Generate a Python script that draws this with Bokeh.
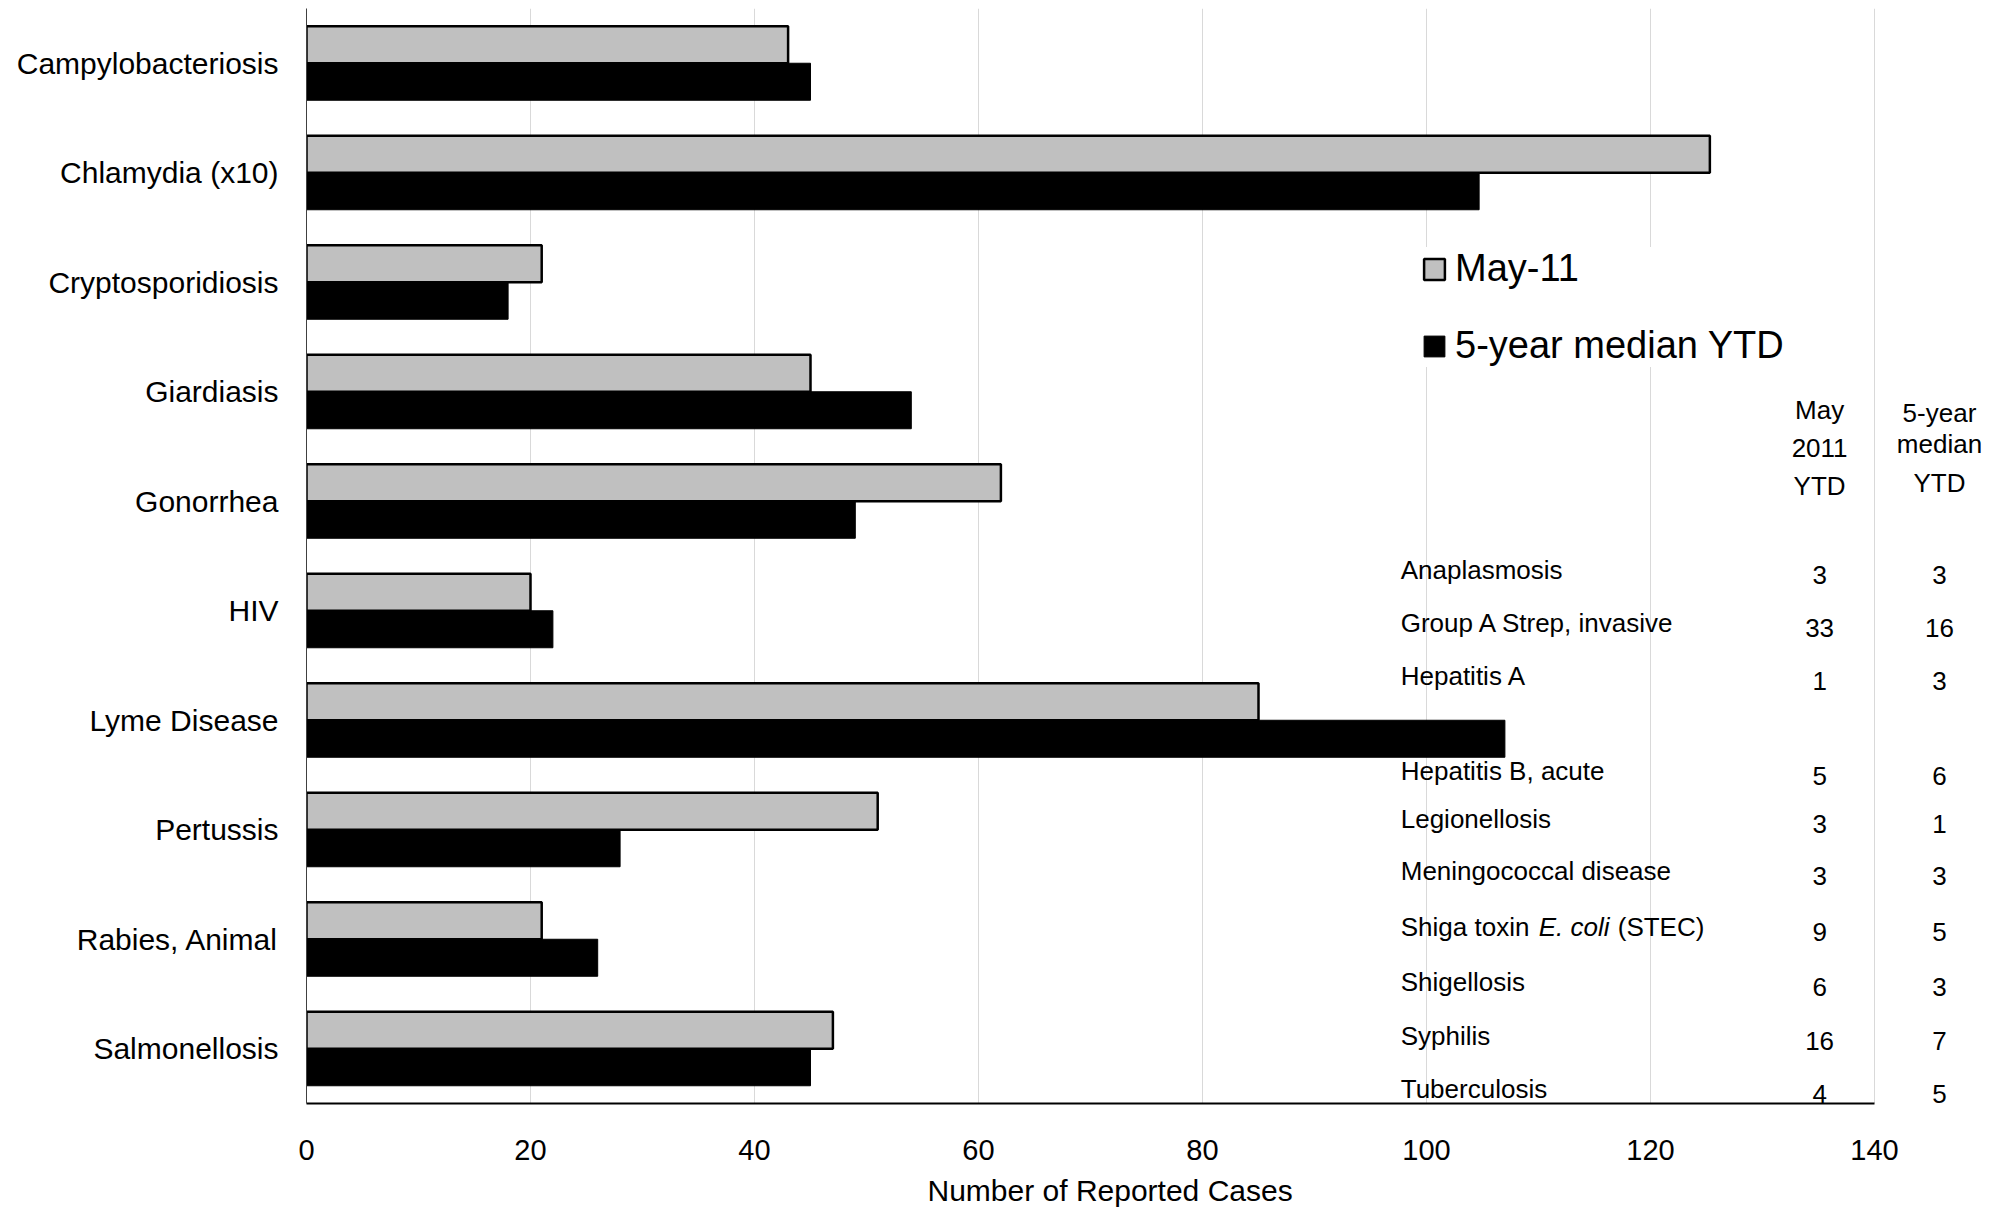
from bokeh.plotting import figure
from bokeh.models import (FactorRange, Range1d, FixedTicker, Legend, LegendItem,
                          ColumnDataSource, LabelSet, Label, Title)
from bokeh.transform import dodge
from bokeh.core.properties import value
from bokeh.embed import file_html
from bokeh.resources import INLINE

# ---------------- data ----------------
categories = ["Campylobacteriosis", "Chlamydia (x10)", "Cryptosporidiosis", "Giardiasis",
              "Gonorrhea", "HIV", "Lyme Disease", "Pertussis", "Rabies, Animal", "Salmonellosis"]
may_11 = [43, 125.3, 21, 45, 62, 20, 85, 51, 21, 47]
median_5yr_ytd = [45, 104.7, 18, 54, 49, 22, 107, 28, 26, 45]
x_ticks = [0, 20, 40, 60, 80, 100, 120, 140]
series_names = ["May-11", "5-year median YTD"]
x_title = "Number of Reported Cases"

table_diseases = ["Anaplasmosis", "Group A Strep, invasive", "Hepatitis A", "Hepatitis B, acute",
                  "Legionellosis", "Meningococcal disease", "Shiga toxin E. coli (STEC)",
                  "Shigellosis", "Syphilis", "Tuberculosis"]
table_may_2011_ytd = [3, 33, 1, 5, 3, 3, 9, 6, 16, 4]
table_median_ytd = [3, 16, 3, 6, 1, 3, 5, 3, 7, 5]
header_col1 = ["May", "2011", "YTD"]
header_col2 = ["5-year", "median", "YTD"]

# ---------------- layout (positions / styles) ----------------
FONT = "Liberation Sans"
W, H = 2000, 1216
FRAME_LEFT, FRAME_TOP, FRAME_BOTTOM = 306, 8, 1103
PX_PER_X = 11.2
PX_PER_Y = (FRAME_BOTTOM - FRAME_TOP) / 10.0
X_END = (W - FRAME_LEFT) / PX_PER_X


def y_at(canvas_px):
    return (FRAME_BOTTOM - canvas_px) / PX_PER_Y


row_px = [569, 622, 675, 770, 818, 870, 926, 981, 1035, 1088]
val_shift = 5
head1_px = [409, 447, 485]
head2_px = [412, 443, 482]
x_names, x_col1, x_col2 = 97.7, 135.1, 145.8

# ---------------- figure ----------------
factors = list(reversed(categories))
p = figure(width=W, height=H, y_range=FactorRange(factors=factors),
           x_range=Range1d(0, X_END), output_backend="svg", toolbar_location=None,
           min_border_left=FRAME_LEFT, min_border_right=0,
           min_border_top=FRAME_TOP, min_border_bottom=H - FRAME_BOTTOM)
p.outline_line_color = None
p.background_fill_color = "white"
p.border_fill_color = "white"

src = ColumnDataSource(dict(cat=categories, may=may_11, med=median_5yr_ytd))
r_may = p.hbar(y=dodge("cat", 0.169, range=p.y_range), right="may", left=0, height=0.338,
               source=src, fill_color="#C0C0C0", line_color="black", line_width=2.5)
r_med = p.hbar(y=dodge("cat", -0.169, range=p.y_range), right="med", left=0, height=0.338,
               source=src, fill_color="black", line_color="black", line_width=1)

# axes
p.xaxis.ticker = FixedTicker(ticks=x_ticks)
p.xaxis.bounds = (x_ticks[0], x_ticks[-1])
p.xaxis.major_tick_out = 0
p.xaxis.major_tick_in = 0
p.xaxis.minor_tick_out = 0
p.xaxis.minor_tick_in = 0
p.xaxis.axis_line_color = "black"
p.xaxis.axis_line_width = 2
p.xaxis.major_label_text_font = FONT
p.xaxis.major_label_text_font_size = "29px"
p.xaxis.major_label_text_color = "black"
p.xaxis.major_label_standoff = 36

p.yaxis.major_tick_out = 0
p.yaxis.major_tick_in = 0
p.yaxis.axis_line_color = "#404040"
p.yaxis.axis_line_width = 1
p.yaxis.major_label_text_font = FONT
p.yaxis.major_label_text_font_size = "30px"
p.yaxis.major_label_text_color = "black"
p.yaxis.major_label_standoff = 28

p.xgrid.grid_line_color = "#D9D9D9"
p.xgrid.grid_line_width = 1
p.ygrid.grid_line_color = None

# x axis title (below the tick labels)
p.add_layout(Title(text=x_title, text_font=FONT, text_font_size="30px",
                   text_font_style="normal", text_color="black", align="left",
                   offset=621, standoff=19), "below")

# legend
legend = Legend(items=[LegendItem(label=series_names[0], renderers=[r_may]),
                       LegendItem(label=series_names[1], renderers=[r_med])],
                location=(1115, 736))
legend.label_text_font = FONT
legend.label_text_font_size = "38px"
legend.label_text_color = "black"
legend.glyph_width = 26
legend.glyph_height = 26
legend.label_height = 20
legend.label_standoff = 8
legend.spacing = 34
legend.padding = 17
legend.margin = 0
legend.border_line_color = None
legend.background_fill_color = "white"
legend.background_fill_alpha = 1.0
p.add_layout(legend)

# table beside the bars
plain_names = [n if "E. coli" not in n else "" for n in table_diseases]
tsrc = ColumnDataSource(dict(
    name=plain_names,
    c1=[str(v) for v in table_may_2011_ytd],
    c2=[str(v) for v in table_median_ytd],
    yn=[y_at(px) for px in row_px],
    yv=[y_at(px + val_shift) for px in row_px],
    xn=[x_names] * len(table_diseases),
    x1=[x_col1] * len(table_diseases),
    x2=[x_col2] * len(table_diseases),
))
common = dict(text_font=value(FONT), text_font_size="26px", text_color="black",
              text_baseline="middle", source=tsrc)
p.add_layout(LabelSet(x="xn", y="yn", text="name", text_align="left", **common))
p.add_layout(LabelSet(x="x1", y="yv", text="c1", text_align="center", **common))
p.add_layout(LabelSet(x="x2", y="yv", text="c2", text_align="center", **common))

# the row with the italic organism name
for i, n in enumerate(table_diseases):
    if "E. coli" in n:
        pre, rest = n.split("E. coli")
        parts = [(pre.strip(), "normal", 0), ("E. coli", "italic", 138),
                 (rest.strip(), "normal", 217)]
        for txt, style, off in parts:
            p.add_layout(Label(x=x_names, y=y_at(row_px[i]), x_offset=off, text=txt,
                               text_font=FONT, text_font_size="26px",
                               text_font_style=style, text_color="black",
                               text_align="left", text_baseline="middle"))

# column headers
for txt, px in zip(header_col1, head1_px):
    p.add_layout(Label(x=x_col1, y=y_at(px), text=txt, text_font=FONT,
                       text_font_size="26px", text_align="center", text_baseline="middle",
                       text_color="black"))
for txt, px in zip(header_col2, head2_px):
    p.add_layout(Label(x=x_col2, y=y_at(px), text=txt, text_font=FONT,
                       text_font_size="26px", text_align="center", text_baseline="middle",
                       text_color="black"))

open("out.html", "w").write(file_html(p, INLINE))
